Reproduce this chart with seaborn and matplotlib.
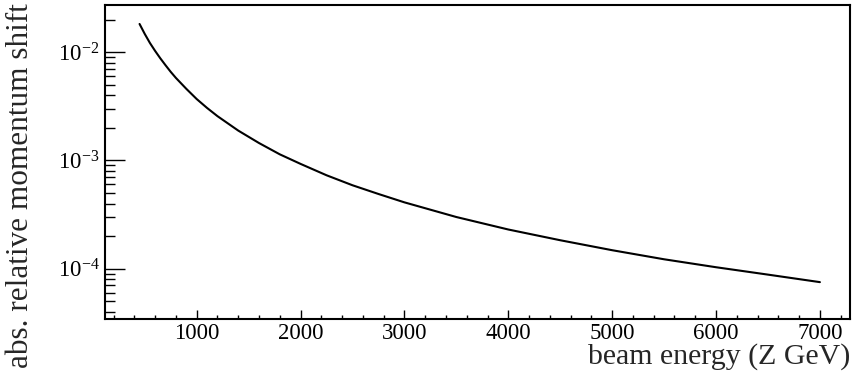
import numpy as np
import pandas as pd
import seaborn as sns
import matplotlib.pyplot as plt
from matplotlib.ticker import LogLocator, MultipleLocator, NullFormatter

# Values
energy = [450, 500, 550, 600, 650, 700, 750, 800, 900, 1000, 1100, 1200, 1400, 1600,
          1800, 2000, 2250, 2500, 2750, 3000, 3500, 4000, 4500, 5000, 5500, 6000, 6500, 7000]
shift = [1.83e-2, 1.48e-2, 1.22e-2, 1.03e-2, 8.8e-3, 7.6e-3, 6.6e-3, 5.8e-3, 4.6e-3, 3.7e-3,
         3.06e-3, 2.57e-3, 1.89e-3, 1.45e-3, 1.14e-3, 9.3e-4, 7.3e-4, 5.9e-4, 4.9e-4, 4.1e-4,
         3.0e-4, 2.3e-4, 1.83e-4, 1.48e-4, 1.22e-4, 1.03e-4, 8.8e-5, 7.5e-5]

df = pd.DataFrame({'energy': energy, 'shift': shift})

sns.set_style('ticks')
plt.rcParams['font.family'] = ['Liberation Serif', 'DejaVu Serif']
plt.rcParams['mathtext.fontset'] = 'custom'
plt.rcParams['mathtext.rm'] = 'Liberation Serif'
plt.rcParams['mathtext.it'] = 'Liberation Serif:italic'

fig = plt.figure(figsize=(8.52, 3.85), dpi=100)
ax = fig.add_axes([0.1232, 0.1714, 0.8745, 0.8156])

sns.lineplot(data=df, x='energy', y='shift', color='black', linewidth=1.5, ax=ax)

ax.set_yscale('log')
ax.set_xlim(117, 7290)
ax.set_ylim(3.42e-5, 2.74e-2)

ax.xaxis.set_major_locator(MultipleLocator(1000))
ax.xaxis.set_minor_locator(MultipleLocator(200))
ax.yaxis.set_major_locator(LogLocator(base=10))
ax.yaxis.set_minor_locator(LogLocator(base=10, subs=np.arange(2, 10)))
ax.yaxis.set_minor_formatter(NullFormatter())

ax.tick_params(axis='both', which='both', direction='in', colors='black', labelsize=16.5)
ax.tick_params(axis='x', which='major', length=6.5, width=1, pad=3)
ax.tick_params(axis='x', which='minor', length=3.2, width=1)
ax.tick_params(axis='y', which='major', length=14.4, width=1, pad=4)
ax.tick_params(axis='y', which='minor', length=7.2, width=1)

for s in ax.spines.values():
    s.set_visible(True)
    s.set_linewidth(1.5)
    s.set_color('black')

ax.set_xlabel('beam energy (Z GeV)', fontsize=21.5, loc='right')
ax.set_ylabel('abs. relative momentum shift', fontsize=22.5, loc='top')
ax.xaxis.set_label_coords(1.0, -0.077)
ax.yaxis.set_label_coords(-0.094, 1.006)

fig.savefig('out.png', dpi=100)
